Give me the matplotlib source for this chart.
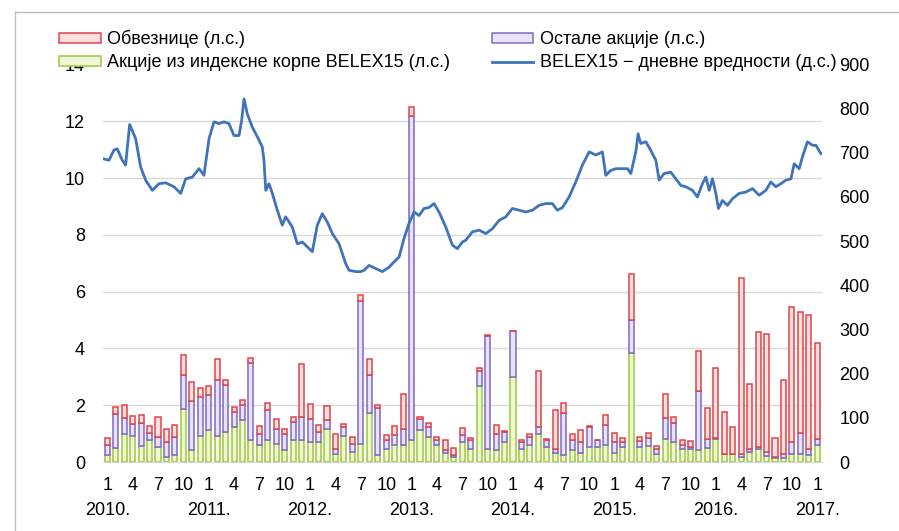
import numpy as np
import matplotlib
matplotlib.use('Agg')
import matplotlib.pyplot as plt
from matplotlib.lines import Line2D
from matplotlib.transforms import blended_transform_factory

plt.rcParams['font.family'] = ['Liberation Sans', 'DejaVu Sans']

# ==========================================
# ПОДАЦИ (очитано са графика), јан 2010 - јан 2017, месечно
# ==========================================
n_months = 85
start_year = 2010

# Акције из индексне корпе BELEX15 (л.с.)
belex_shares = [0.25, 0.5, 1.0, 0.9, 0.57, 0.77, 0.53, 0.18, 0.24, 1.87, 0.44, 0.9,
                1.12, 0.92, 1.06, 1.24, 1.48, 0.77, 0.59, 0.77, 0.65, 0.44, 0.77, 0.77,
                0.71, 0.71, 1.18, 0.3, 0.92, 0.35, 0.65, 1.71, 0.24, 0.47, 0.59, 0.59,
                0.77, 1.12, 0.89, 0.59, 0.33, 0.18, 0.71, 0.47, 2.66, 0.47, 0.41, 0.71,
                3.01, 0.47, 0.59, 1.0, 0.53, 0.32, 0.24, 0.44, 0.32, 0.53, 0.53, 0.59,
                0.32, 0.53, 3.85, 0.54, 0.56, 0.27, 0.8, 0.72, 0.45, 0.45, 0.42, 0.5,
                0.81, 0.27, 0.27, 0.19, 0.34, 0.46, 0.22, 0.13, 0.13, 0.27, 0.27, 0.25,
                0.6]
# Остале акције (л.с.)
other_shares = [0.35, 1.2, 0.55, 0.45, 0.8, 0.26, 0.35, 0.53, 0.65, 1.2, 1.7, 1.4,
                1.24, 1.97, 1.66, 0.53, 0.52, 2.71, 0.41, 1.06, 0.53, 0.56, 0.65, 0.83,
                0.79, 0.35, 0.3, 0.17, 0.32, 0.3, 5.02, 1.36, 1.65, 0.3, 0.35, 0.56,
                11.43, 0.38, 0.35, 0.18, 0.08, 0.06, 0.23, 0.3, 0.53, 3.96, 0.59, 0.33,
                1.59, 0.24, 0.3, 0.24, 0.24, 0.15, 1.47, 0.33, 0.39, 0.71, 0.24, 0.71,
                0.39, 0.18, 1.15, 0.21, 0.3, 0.18, 0.76, 0.64, 0.15, 0.09, 2.08, 0.31,
                0.02, 0.02, 0.02, 0.08, 0.11, 0.08, 0.14, 0.06, 0.17, 0.45, 0.74, 0.21,
                0.21]
# Обвезнице (л.с.)
bonds = [0.25, 0.25, 0.45, 0.27, 0.3, 0.25, 0.7, 0.44, 0.43, 0.7, 0.67, 0.32,
         0.32, 0.73, 0.17, 0.18, 0.18, 0.18, 0.26, 0.24, 0.32, 0.18, 0.18, 1.86,
         0.54, 0.24, 0.5, 0.53, 0.09, 0.24, 0.21, 0.55, 0.11, 0.17, 0.32, 1.23,
         0.3, 0.08, 0.12, 0.12, 0.36, 0.27, 0.26, 0.06, 0.12, 0.03, 0.32, 0.04,
         0.03, 0.06, 0.09, 1.95, 0.04, 1.36, 0.36, 0.21, 0.41, 0.04, 0.02, 0.35,
         0.32, 0.14, 1.61, 0.14, 0.15, 0.13, 0.82, 0.24, 0.17, 0.2, 1.41, 1.1,
         2.47, 1.48, 0.93, 6.2, 2.3, 4.05, 4.14, 0.64, 2.59, 4.73, 4.28, 4.72,
         3.39]

# BELEX15 - дневне вредности (д.с.), време у месецима од јан 2010
belex_t = [-0.39, 0.2, 0.79, 1.18, 1.78, 2.17, 2.65, 3.36, 3.95, 4.54, 5.33, 6.12,
           6.91, 7.89, 8.69, 9.28, 10.06, 10.85, 11.44, 12.04, 12.63, 13.22, 13.81,
           14.4, 14.99, 15.59, 15.9, 16.18, 16.57, 17.16, 17.87, 18.34, 18.54, 18.75,
           19.14, 19.53, 20.12, 20.71, 21.11, 21.89, 22.49, 23.08, 23.67, 24.26,
           24.85, 25.44, 26.04, 26.63, 27.42, 28.21, 28.6, 29.4, 29.99, 30.38, 30.97,
           31.76, 32.54, 33.34, 33.93, 34.52, 35.11, 35.7, 36.3, 36.89, 37.48, 38.07,
           38.66, 39.25, 40.05, 40.83, 41.42, 42.01, 42.41, 43.2, 43.99, 44.78, 45.56,
           46.36, 47.15, 47.93, 48.72, 49.51, 50.3, 51.09, 51.88, 52.66, 53.25, 53.85,
           54.64, 55.43, 56.21, 57.01, 57.8, 58.58, 58.98, 59.57, 60.17, 60.95, 61.54,
           61.94, 62.53, 62.8, 63.12, 63.72, 64.31, 64.9, 65.29, 65.88, 66.67, 67.27,
           67.86, 68.45, 69.23, 69.82, 70.41, 70.82, 71.21, 71.6, 72.0, 72.31, 72.78,
           73.37, 73.96, 74.76, 75.55, 76.33, 77.12, 77.92, 78.51, 79.1, 79.69, 80.28,
           80.88, 81.27, 81.86, 82.25, 82.84, 83.43, 83.83, 84.43]
belex_v = [686, 683, 706, 709, 683, 672, 764, 732, 668, 638, 615, 630,
           632, 623, 608, 641, 645, 664, 649, 732, 770, 766, 770,
           766, 739, 739, 773, 822, 788, 758, 732, 713, 683, 615,
           630, 608, 570, 536, 555, 532, 494, 498, 487, 476,
           536, 562, 543, 517, 494, 449, 434, 431, 431, 434, 445,
           438, 431, 441, 453, 464, 506, 540, 566, 558, 574, 576,
           585, 566, 532, 491, 483, 498, 502, 521, 525, 517, 528,
           547, 555, 574, 570, 566, 570, 581, 585, 585, 570, 576,
           600, 634, 672, 702, 695, 702, 649, 660, 664, 664, 664,
           653, 702, 743, 721, 725, 705, 683, 638, 653, 656, 641,
           626, 623, 615, 600, 630, 645, 615, 641, 608, 574, 592,
           581, 596, 608, 611, 619, 604, 615, 634, 623, 630, 638,
           641, 675, 664, 691, 725, 717, 717, 698]

left_ticks = [0, 2, 4, 6, 8, 10, 12, 14]
right_ticks = [0, 100, 200, 300, 400, 500, 600, 700, 800, 900]

labels = {
    'bonds': 'Обвезнице (л.с.)',
    'other': 'Остале акције (л.с.)',
    'belex_shares': 'Акције из индексне корпе BELEX15 (л.с.)',
    'belex': 'BELEX15 − дневне вредности (д.с.)',
}

FS = 13

# ==========================================
# ГРАФИК
# ==========================================
fig = plt.figure(figsize=(8.99, 5.31), dpi=100)
ax = fig.add_axes([0.1146, 0.1299, 0.7992, 0.7488])

x = np.arange(n_months)
g = np.array(belex_shares)
p = np.array(other_shares)
r = np.array(bonds)
w = 0.6
b_g = ax.bar(x, g, w, color='#f0f7d6', edgecolor='#9cc83c', linewidth=1.1, label=labels['belex_shares'], zorder=3)
b_p = ax.bar(x, p, w, bottom=g, color='#e8e3f7', edgecolor='#7e68c4', linewidth=1.1, label=labels['other'], zorder=3)
b_r = ax.bar(x, r, w, bottom=g + p, color='#fbe0e0', edgecolor='#e2434a', linewidth=1.1, label=labels['bonds'], zorder=3)

for v in left_ticks[1:-1]:
    ax.axhline(v, color='#d9d9d9', lw=1, zorder=1)

ax.set_xlim(-0.5, n_months - 0.5)
ax.set_ylim(left_ticks[0], left_ticks[-1])
ax.set_yticks(left_ticks)
xt = list(range(0, n_months, 3))
ax.set_xticks(xt)
ax.set_xticklabels([str(i % 12 + 1) for i in xt])
ax.tick_params(axis='both', length=0, labelsize=FS)
ax.tick_params(axis='x', pad=11)
ax.tick_params(axis='y', pad=13)
for s in ['top', 'right', 'left']:
    ax.spines[s].set_visible(False)
ax.spines['bottom'].set_color('#d9d9d9')

# године испод месеци
trans = blended_transform_factory(ax.transData, ax.transAxes)
for i in range(0, n_months, 12):
    ax.text(i, -0.122, str(start_year + i // 12) + '.', transform=trans,
            ha='center', va='center', fontsize=FS)

ax2 = ax.twinx()
l_b, = ax2.plot(belex_t, belex_v, color='#3f74ba', lw=2.0, label=labels['belex'])
ax2.set_ylim(right_ticks[0], right_ticks[-1])
ax2.set_yticks(right_ticks)
ax2.tick_params(axis='y', length=0, labelsize=FS, pad=13)
for s in ax2.spines.values():
    s.set_visible(False)

# легенда (попуњава се по колонама)
handles = [b_r, b_g, b_p, l_b]
names = [labels['bonds'], labels['belex_shares'], labels['other'], labels['belex']]
ax.legend(handles, names, ncol=2, loc='upper left', bbox_to_anchor=(0.066, 0.9435),
          bbox_transform=fig.transFigure, frameon=False, fontsize=FS,
          handlelength=2.3, handleheight=0.45, handletextpad=0.35,
          columnspacing=2.3, labelspacing=0.33, borderpad=0, borderaxespad=0)

# оквир
fig.add_artist(Line2D([0.0167, 1.0], [0.9774, 0.9774], color='#bfbfbf', lw=1))
fig.add_artist(Line2D([0.0167, 0.0167], [0.0, 0.9774], color='#bfbfbf', lw=1))

plt.savefig('out.png', dpi=100)
